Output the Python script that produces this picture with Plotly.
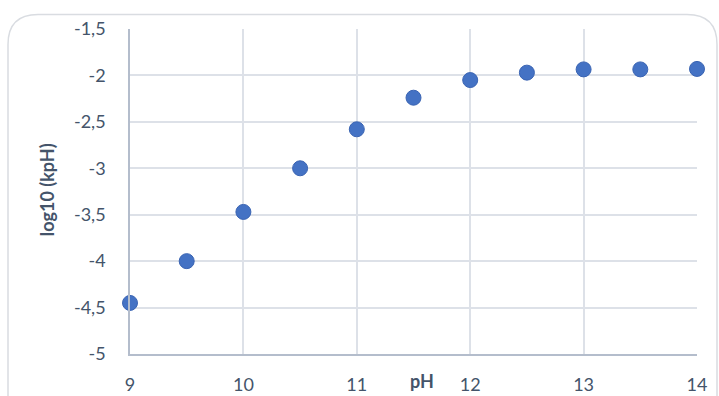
import plotly.graph_objects as go

ph = [9, 9.5, 10, 10.5, 11, 11.5, 12, 12.5, 13, 13.5, 14]
log_kph = [-4.45, -4.0, -3.47, -3.0, -2.58, -2.24, -2.05, -1.97, -1.935, -1.935, -1.93]
x_ticks = [9, 10, 11, 12, 13, 14]
y_ticks = [-5, -4.5, -4, -3.5, -3, -2.5, -2, -1.5]
y_labels = ["-5", "-4,5", "-4", "-3,5", "-3", "-2,5", "-2", "-1,5"]

W, H = 719, 396
L, R, T, B = 130, 697, 28.5, 354

def px_x(p):
    return (p - L) / (R - L)

def px_y(p):
    return (B - p) / (B - T)

text_color = "#44546a"
font = "Lato"

fig = go.Figure()
fig.add_trace(go.Scatter(
    x=ph, y=log_kph, mode="markers",
    marker=dict(size=15, color="#4472c4", line=dict(color="#3a64b3", width=1)),
    showlegend=False, cliponaxis=False, hoverinfo="skip",
))

# rounded chart border
r = 30
x0, y0, x1, y1 = 8, 14, 717, 420
path = (f"M {px_x(x0)},{px_y(y0 + r)} "
        f"Q {px_x(x0)},{px_y(y0)} {px_x(x0 + r)},{px_y(y0)} "
        f"L {px_x(x1 - r)},{px_y(y0)} "
        f"Q {px_x(x1)},{px_y(y0)} {px_x(x1)},{px_y(y0 + r)} "
        f"L {px_x(x1)},{px_y(y1)} L {px_x(x0)},{px_y(y1)} Z")
fig.add_shape(type="path", xref="paper", yref="paper", path=path,
              line=dict(color="#d9dce1", width=1.5), layer="below")

fig.add_annotation(text="<b>pH</b>", x=px_x(422), y=px_y(381), xref="paper", yref="paper",
                   xanchor="center", yanchor="middle",
                   showarrow=False, font=dict(family=font, size=18, color=text_color))
fig.add_annotation(text="<b>log10 (kpH)</b>", x=px_x(47), y=px_y(190), xref="paper", yref="paper",
                   xanchor="center", yanchor="middle",
                   showarrow=False, textangle=-90, font=dict(family=font, size=18, color=text_color))

fig.update_layout(
    width=W, height=H, autosize=False,
    margin=dict(l=L, r=W - R, t=T, b=H - B, autoexpand=False),
    paper_bgcolor="white", plot_bgcolor="white",
    font=dict(family=font, size=18, color=text_color),
    xaxis=dict(range=[9, 14], tickvals=x_ticks, showgrid=True, gridcolor="#dde1e8", gridwidth=1.5,
               showline=True, linecolor="#b4bdcc", linewidth=1.5, zeroline=False, automargin=False,
               ticks="outside", ticklen=14, tickcolor="rgba(0,0,0,0)"),
    yaxis=dict(range=[-5, -1.5], tickvals=y_ticks, ticktext=y_labels, showgrid=True,
               gridcolor="#dde1e8", gridwidth=1.5, automargin=False,
               showline=True, linecolor="#b4bdcc", linewidth=1.5, zeroline=False,
               ticks="outside", ticklen=19, tickcolor="rgba(0,0,0,0)"),
)

fig.write_html("out.html", config={"displayModeBar": False},
               post_script="document.body.style.margin='0';")
